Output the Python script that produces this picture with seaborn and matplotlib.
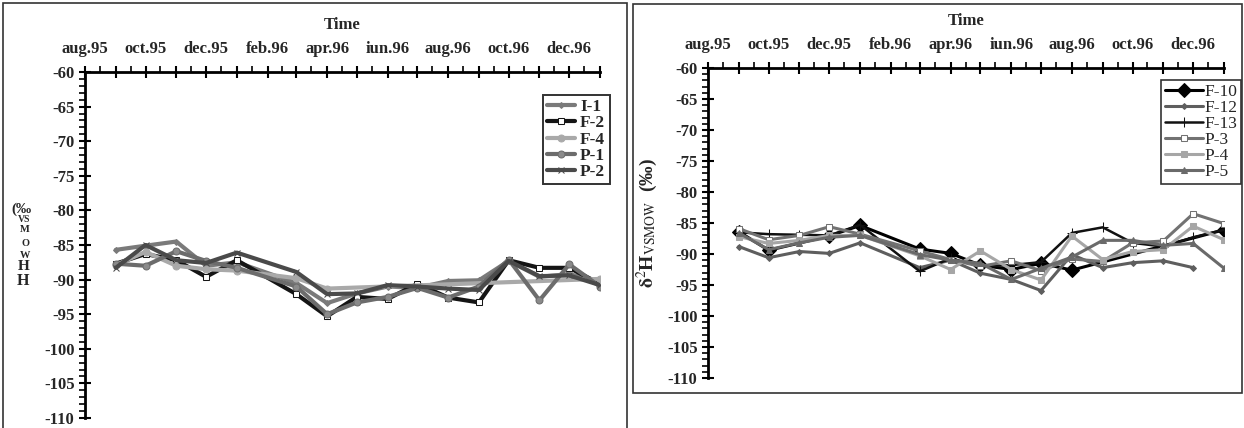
import numpy as np
import pandas as pd
import matplotlib
matplotlib.use("Agg")
import matplotlib.pyplot as plt
import matplotlib.dates as mdates
from matplotlib.patches import Rectangle
import seaborn as sns

# fechas de muestreo (feb.96 sin muestra)
sample_dates = ["1995-09-01", "1995-10-01", "1995-11-01", "1995-12-01", "1996-01-01",
                "1996-03-01", "1996-04-01", "1996-05-01", "1996-06-01", "1996-07-01",
                "1996-08-01", "1996-09-01", "1996-10-01", "1996-11-01", "1996-12-01",
                "1997-01-01"]

# panel izquierdo
i1 = [-85.7, -85.1, -84.5, -88.0, -87.5, -90.5, -93.4, -92.0, -91.0, -91.2, -90.2, -90.1, -87.3, -89.6, -89.2, -90.3]
f2 = [-87.7, -86.3, -87.2, -89.6, -87.2, -92.1, -95.3, -92.5, -92.8, -90.6, -92.6, -93.3, -87.2, -88.3, -88.3, -90.6]
f4 = [-87.9, -86.0, -88.0, -88.5, -88.7, -89.8, -91.3, np.nan, np.nan, np.nan, np.nan, np.nan, np.nan, np.nan, np.nan, -89.9]
p1 = [-87.7, -88.0, -85.9, -87.3, -88.3, -91.0, -95.0, -93.3, -92.5, -91.2, -92.6, -91.0, -87.1, -93.0, -87.8, -91.0]
p2 = [-88.3, -85.0, -87.2, -87.6, -86.1, -88.9, -92.1, -92.0, -90.8, -91.0, -91.3, -91.5, -87.3, -89.5, -89.4, -90.8]

# panel derecho
f10 = [-86.4, -89.4, np.nan, -87.1, -85.4, -89.2, -89.9, -91.8, -92.5, -91.5, -92.6, np.nan, np.nan, np.nan, np.nan, -86.1]
f12 = [-88.8, -90.6, -89.6, -89.9, -88.2, -92.2, -91.0, -93.1, -94.1, -95.9, -90.1, -92.2, -91.4, -91.1, -92.2, np.nan]
f13 = [-86.5, -86.8, -86.9, -87.0, -85.3, -92.8, -90.7, -92.0, -91.8, -91.3, -86.6, -85.7, -88.2, -88.8, -87.3, -86.1]
p3 = [-85.9, -87.7, -87.0, -85.6, -86.8, -89.5, -90.9, -92.0, -91.1, -92.7, -90.8, -91.2, -88.2, -87.9, -83.5, -85.1]
p4 = [-87.2, -88.3, -87.8, -87.0, -87.0, -90.3, -92.5, -89.5, -92.5, -94.2, -87.1, -90.9, -89.6, -89.3, -85.5, -87.7]
p5 = [-86.6, -89.3, -88.2, -87.3, -87.0, -90.1, -91.0, -91.5, -94.1, -92.3, -90.5, -87.8, -87.8, -88.6, -88.3, -92.3]

month_ticks = pd.date_range("1995-08-01", "1997-01-01", freq="MS")
tick_labels = ["aug.95", "", "oct.95", "", "dec.95", "", "feb.96", "", "apr.96", "",
               "iun.96", "", "aug.96", "", "oct.96", "", "dec.96", ""]
y_ticks = list(range(-110, -55, 5))

W, H = 1244, 428

sns.set_style("white")
plt.rcParams["font.family"] = ["Liberation Serif", "DejaVu Serif"]
plt.rcParams["mathtext.fontset"] = "stix"


def long_df(series):
    rows = []
    for name, vals in series.items():
        for d, v in zip(sample_dates, vals):
            if not np.isnan(v):
                rows.append({"fecha": pd.Timestamp(d), "valor": v, "pozo": name})
    return pd.DataFrame(rows)


def px_axes(fig, x0, x1, ytop, ybot):
    return fig.add_axes([x0 / W, 1 - ybot / H, (x1 - x0) / W, (ybot - ytop) / H])


def style_axes(ax, label_size):
    ax.set_xlim(pd.Timestamp("1995-08-01"), pd.Timestamp("1997-01-01"))
    ax.set_ylim(-110, -60)
    for s in ["right", "bottom"]:
        ax.spines[s].set_visible(False)
    for s in ["top", "left"]:
        ax.spines[s].set_linewidth(2)
        ax.spines[s].set_color("black")
    ax.xaxis.tick_top()
    ax.xaxis.set_label_position("top")
    ax.set_xticks(month_ticks)
    ax.set_xticklabels(tick_labels)
    ax.xaxis.set_minor_locator(mdates.MonthLocator(bymonthday=16))
    ax.set_yticks(y_ticks)
    ax.set_yticklabels([str(v) for v in y_ticks])
    for t in ax.get_xticklabels() + ax.get_yticklabels():
        t.set_fontsize(label_size)
        t.set_fontweight("bold")
    ax.yaxis.set_minor_locator(matplotlib.ticker.MultipleLocator(1))
    ax.tick_params(axis="both", which="major", direction="inout", length=9, width=1.5,
                   color="black", top=True, bottom=False, left=True, right=False)
    ax.tick_params(axis="x", which="major", pad=6)
    ax.tick_params(axis="y", which="major", pad=3)
    ax.tick_params(axis="both", which="minor", direction="out", length=4, width=1.2,
                   color="black", top=True, bottom=False, left=True, right=False)
    ax.set_xlabel("Time", fontsize=label_size, fontweight="bold", labelpad=9)
    ax.set_ylabel("")
    ax.grid(False)


fig = plt.figure(figsize=(W / 100, H / 100), dpi=100)
fig.patch.set_facecolor("white")

# marcos de los paneles
fig.patches.append(Rectangle((3 / W, -0.05), (627 - 3) / W, 1.05 - 3 / H, transform=fig.transFigure,
                             fill=False, edgecolor="#333333", linewidth=1.2))
fig.patches.append(Rectangle((633 / W, 1 - 393 / H), (1242 - 633) / W, (393 - 4) / H,
                             transform=fig.transFigure, fill=False, edgecolor="#333333", linewidth=1.2))

# ---- panel izquierdo
ax1 = px_axes(fig, 85, 600, 72, 418)
left = {"I-1": i1, "F-2": f2, "F-4": f4, "P-1": p1, "P-2": p2}
left_style = {
    "I-1": dict(color="#7a7a7a", marker="D", ms=3, mfc="#7a7a7a", lw=3.0),
    "F-2": dict(color="#151515", marker="s", ms=5, mfc="white", lw=3.0),
    "F-4": dict(color="#a9a9a9", marker="o", ms=5, mfc="#a9a9a9", lw=3.0),
    "P-1": dict(color="#6c6c6c", marker="o", ms=5, mfc="#8a8a8a", lw=3.0),
    "P-2": dict(color="#4a4a4a", marker="x", ms=5, mfc="#4a4a4a", lw=3.0),
}
df_left = long_df(left)
for name in left:
    st = left_style[name]
    sns.lineplot(data=df_left[df_left["pozo"] == name], x="fecha", y="valor", ax=ax1,
                 color=st["color"], linewidth=st["lw"], marker=st["marker"], markersize=st["ms"],
                 markerfacecolor=st["mfc"], markeredgecolor=st["color"], label=name)
style_axes(ax1, 12)
leg1 = ax1.legend(loc="upper left", bbox_to_anchor=(0.889, 0.934), borderaxespad=0,
                  frameon=True, fancybox=False, edgecolor="black",
                  prop={"weight": "bold", "size": 12.5}, handlelength=1.6, handletextpad=0.3,
                  labelspacing=0.0, borderpad=0.25)
leg1.get_frame().set_linewidth(1.4)

# etiqueta vertical rota del panel izquierdo
for txt, x, y, sz in [("(‰", 21, 209, 11), ("VS", 24, 220, 7), ("M", 25, 230, 7.5),
                      ("O", 25, 243, 7.5), ("W", 25, 256, 7.5), ("H", 24, 266, 11), ("H", 23, 281, 11.5)]:
    fig.text(x / W, 1 - y / H, txt, fontsize=sz, fontweight="bold", ha="center", va="center")

# ---- panel derecho
ax2 = px_axes(fig, 708, 1224, 68, 378)
right = {"F-10": f10, "F-12": f12, "F-13": f13, "P-3": p3, "P-4": p4, "P-5": p5}
right_style = {
    "F-10": dict(color="#000000", marker="D", ms=7, mfc="#000000", lw=2.2),
    "F-12": dict(color="#5e5e5e", marker="D", ms=3, mfc="#5e5e5e", lw=2.2),
    "F-13": dict(color="#111111", marker="+", ms=7, mfc="#111111", lw=1.8),
    "P-3": dict(color="#727272", marker="s", ms=4, mfc="white", lw=2.2),
    "P-4": dict(color="#a6a6a6", marker="s", ms=4, mfc="#a6a6a6", lw=2.2),
    "P-5": dict(color="#6a6a6a", marker="^", ms=5, mfc="#6a6a6a", lw=2.2),
}
df_right = long_df(right)
for name in right:
    st = right_style[name]
    sns.lineplot(data=df_right[df_right["pozo"] == name], x="fecha", y="valor", ax=ax2,
                 color=st["color"], linewidth=st["lw"], marker=st["marker"], markersize=st["ms"],
                 markerfacecolor=st["mfc"], markeredgecolor=st["color"], label=name)
style_axes(ax2, 12)
ax2.set_ylabel(r"$\mathbf{\delta}^{2}$H$_{\mathrm{VSMOW}}$  (‰)", fontsize=14, fontweight="bold", labelpad=5)
leg2 = ax2.legend(loc="upper left", bbox_to_anchor=(0.878, 0.961), borderaxespad=0,
                  frameon=True, fancybox=False, edgecolor="black",
                  prop={"size": 12.5}, handlelength=2.2, handletextpad=0.1,
                  labelspacing=0.0, borderpad=0.2)
leg2.get_frame().set_linewidth(1.2)

fig.savefig("out.png", dpi=100, facecolor="white")
